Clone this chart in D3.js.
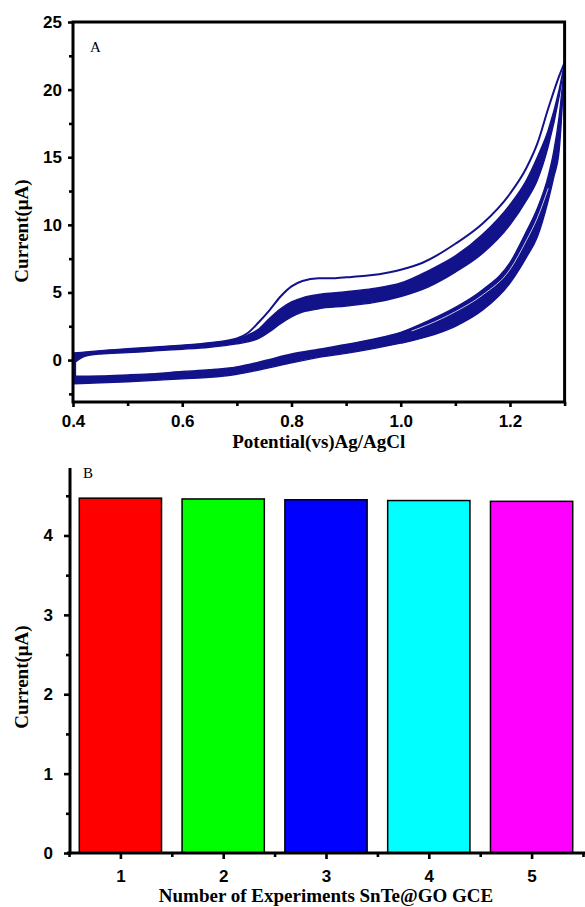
<!DOCTYPE html>
<html>
<head>
<meta charset="utf-8">
<script src="https://cdn.jsdelivr.net/npm/d3@7/dist/d3.min.js"></script>
<style>
  html, body { margin: 0; padding: 0; background: #ffffff; }
  svg { display: block; }
</style>
</head>
<body>
<svg id="chart" width="585" height="907"></svg>
<script>
// ---------- Panel A data: cyclic voltammograms (potential V, current µA) ----------
// First cycle, forward (anodic) sweep – the separate outer line
const firstFwdV = [0.40, 0.45, 0.50, 0.55, 0.60, 0.65, 0.70, 0.72, 0.74, 0.76, 0.78, 0.80, 0.82, 0.85, 0.88, 0.91, 0.94, 0.98, 1.00, 1.04, 1.10, 1.15, 1.20, 1.23, 1.25, 1.27, 1.29, 1.30];
const firstFwdI = [0.50, 0.68, 0.82, 0.95, 1.08, 1.27, 1.60, 2.00, 2.80, 3.70, 4.70, 5.45, 5.85, 6.05, 6.06, 6.15, 6.25, 6.50, 6.68, 7.20, 8.60, 10.1, 12.3, 14.2, 16.0, 18.6, 21.0, 22.0];

// Later cycles, forward sweep – band of overlapping curves (upper / lower edge)
const fwdBandV     = [0.40, 0.42, 0.45, 0.50, 0.55, 0.60, 0.65, 0.70, 0.72, 0.74, 0.76, 0.78, 0.80, 0.82, 0.85, 0.90, 0.95, 1.00, 1.05, 1.10, 1.15, 1.20, 1.23, 1.25, 1.27, 1.29, 1.30];
const fwdBandUpper = [0.45, 0.55, 0.65, 0.80, 0.92, 1.05, 1.25, 1.55, 1.85, 2.30, 3.10, 3.80, 4.30, 4.60, 4.85, 5.05, 5.30, 5.70, 6.60, 7.70, 9.30, 11.5, 13.3, 15.0, 17.0, 20.0, 22.0];
const fwdBandLower = [-0.30, 0.25, 0.45, 0.55, 0.68, 0.80, 0.95, 1.20, 1.35, 1.60, 2.10, 2.70, 3.20, 3.55, 3.80, 4.00, 4.25, 4.70, 5.40, 6.50, 7.90, 10.0, 11.8, 13.3, 15.8, 19.5, 22.0];

// Reverse (cathodic) sweep – band of overlapping curves
const revBandV     = [0.40, 0.45, 0.50, 0.55, 0.60, 0.65, 0.70, 0.75, 0.80, 0.85, 0.90, 0.95, 1.00, 1.05, 1.10, 1.15, 1.20, 1.23, 1.25, 1.27, 1.28, 1.29, 1.30];
const revBandUpper = [-1.20, -1.18, -1.10, -1.00, -0.85, -0.72, -0.50, -0.05, 0.45, 0.80, 1.15, 1.55, 2.05, 2.90, 3.90, 5.20, 7.20, 9.50, 11.2, 13.6, 15.4, 18.0, 22.0];
const revBandLower = [-1.75, -1.68, -1.60, -1.50, -1.38, -1.28, -1.05, -0.65, -0.20, 0.20, 0.50, 0.85, 1.25, 1.75, 2.50, 3.70, 5.70, 7.60, 9.10, 11.8, 13.5, 15.5, 22.0];

// Thin gap separating the first reverse cycle from the later ones
const revGapV = [1.02, 1.05, 1.10, 1.15, 1.20, 1.23, 1.25, 1.27];
const revGapI = [2.15, 2.62, 3.58, 4.82, 6.70, 8.85, 10.5, 12.7];

// Switching point at the low-potential end (reverse -> forward)
const turnV = [0.403, 0.403];
const turnI = [-1.75, 0.50];

const xTicksA = [0.4, 0.6, 0.8, 1.0, 1.2];
const xMinorA = [0.5, 0.7, 0.9, 1.1, 1.3];
const yTicksA = [0, 5, 10, 15, 20, 25];
const yMinorA = [-2.5, 2.5, 7.5, 12.5, 17.5, 22.5];

// ---------- Panel B data: repeatability bars ----------
const experiments = [1, 2, 3, 4, 5];
const currents    = [4.47, 4.46, 4.45, 4.44, 4.43];
const barColors   = ["#ff0000", "#00ff00", "#0000ff", "#00ffff", "#ff00ff"];
const yTicksB = [0, 1, 2, 3, 4];
const yMinorB = [0.5, 1.5, 2.5, 3.5, 4.5];
const xMinorB = [0.5, 1.5, 2.5, 3.5, 4.5, 5.5];

// ---------- Drawing ----------
const svg = d3.select("#chart");
const tickFont = "'Liberation Sans', Arial, Helvetica, sans-serif";
const titleFont = "'Liberation Serif', 'Times New Roman', Times, serif";
const navy = "#12128a";

function styleAxis(g, fs) {
  g.select(".domain").remove();
  g.selectAll(".tick line").attr("stroke", "#000").attr("stroke-width", 2.6);
  g.selectAll(".tick text")
    .attr("fill", "#000")
    .style("font-family", tickFont)
    .style("font-weight", "bold")
    .style("font-size", fs + "px");
}

// ===== Panel A =====
const xA = d3.scaleLinear().domain([0.4, 1.3]).range([73, 564.6]);
const yA = d3.scaleLinear().domain([-3.1, 25]).range([402, 22]);

svg.append("defs").append("clipPath").attr("id", "clipA")
  .append("rect")
  .attr("x", xA(0.4)).attr("y", yA(25))
  .attr("width", xA(1.3) - xA(0.4)).attr("height", yA(-3.1) - yA(25));

const plotA = svg.append("g").attr("clip-path", "url(#clipA)");

const bandArea = d3.area().curve(d3.curveMonotoneX);

function drawBand(V, up, lo) {
  const pts = V.map((v, i) => [xA(v), yA(up[i]), yA(lo[i])]);
  plotA.append("path")
    .attr("d", bandArea.x(d => d[0]).y0(d => d[2]).y1(d => d[1])(pts))
    .attr("fill", navy)
    .attr("stroke", navy)
    .attr("stroke-width", 1.4)
    .attr("stroke-linejoin", "round");
}
drawBand(revBandV, revBandUpper, revBandLower);
drawBand(fwdBandV, fwdBandUpper, fwdBandLower);

const lineGen = d3.line().curve(d3.curveMonotoneX);
plotA.append("path")
  .attr("d", lineGen(revGapV.map((v, i) => [xA(v), yA(revGapI[i])])))
  .attr("fill", "none")
  .attr("stroke", "#ffffff")
  .attr("stroke-opacity", 0.85)
  .attr("stroke-width", 0.9);

plotA.append("path")
  .attr("d", lineGen(firstFwdV.map((v, i) => [xA(v), yA(firstFwdI[i])])))
  .attr("fill", "none")
  .attr("stroke", navy)
  .attr("stroke-width", 2);

plotA.append("path")
  .attr("d", d3.line()(turnV.map((v, i) => [xA(v), yA(turnI[i])])))
  .attr("fill", "none")
  .attr("stroke", navy)
  .attr("stroke-width", 3);

// axes A
const gxA = svg.append("g").attr("transform", `translate(0,${yA(-3.1)})`)
  .call(d3.axisBottom(xA).tickValues(xTicksA).tickFormat(d3.format(".1f")).tickSize(5).tickPadding(8));
styleAxis(gxA, 17);
const gxAm = svg.append("g").attr("transform", `translate(0,${yA(-3.1)})`)
  .call(d3.axisBottom(xA).tickValues(xMinorA).tickFormat("").tickSize(4));
styleAxis(gxAm, 17);

const gyA = svg.append("g").attr("transform", `translate(${xA(0.4)},0)`)
  .call(d3.axisLeft(yA).tickValues(yTicksA).tickSize(5).tickPadding(6));
styleAxis(gyA, 17);
const gyAm = svg.append("g").attr("transform", `translate(${xA(0.4)},0)`)
  .call(d3.axisLeft(yA).tickValues(yMinorA).tickFormat("").tickSize(4));
styleAxis(gyAm, 17);

// frame A
svg.append("rect")
  .attr("x", xA(0.4)).attr("y", yA(25))
  .attr("width", xA(1.3) - xA(0.4)).attr("height", yA(-3.1) - yA(25))
  .attr("fill", "none").attr("stroke", "#000").attr("stroke-width", 3);

svg.append("text").attr("x", 90).attr("y", 52)
  .style("font-family", titleFont).style("font-size", "15px").text("A");

svg.append("text")
  .attr("x", (xA(0.4) + xA(1.3)) / 2).attr("y", 448)
  .attr("text-anchor", "middle")
  .style("font-family", titleFont).style("font-weight", "bold").style("font-size", "19px")
  .text("Potential(vs)Ag/AgCl");

svg.append("text")
  .attr("transform", "translate(28,231) rotate(-90)")
  .attr("text-anchor", "middle")
  .style("font-family", titleFont).style("font-weight", "bold").style("font-size", "19px")
  .text("Current(μA)");

// ===== Panel B =====
const xB = d3.scaleLinear().domain([0.5, 5.5]).range([69, 583]);
const yB = d3.scaleLinear().domain([0, 4.85]).range([853, 468]);
const barW = 0.8;

svg.append("g").selectAll("rect")
  .data(experiments)
  .join("rect")
  .attr("x", (d) => xB(d - barW / 2))
  .attr("width", xB(barW) - xB(0))
  .attr("y", (d, i) => yB(currents[i]))
  .attr("height", (d, i) => yB(0) - yB(currents[i]))
  .attr("fill", (d, i) => barColors[i])
  .attr("stroke", "#000")
  .attr("stroke-width", 1.5);

const gxB = svg.append("g").attr("transform", `translate(0,${yB(0)})`)
  .call(d3.axisBottom(xB).tickValues(experiments).tickFormat(d3.format("d")).tickSize(6).tickPadding(11));
styleAxis(gxB, 17);
const gxBm = svg.append("g").attr("transform", `translate(0,${yB(0)})`)
  .call(d3.axisBottom(xB).tickValues(xMinorB).tickFormat("").tickSize(4));
styleAxis(gxBm, 17);

const gyB = svg.append("g").attr("transform", `translate(70,0)`)
  .call(d3.axisLeft(yB).tickValues(yTicksB).tickFormat(d3.format("d")).tickSize(6).tickPadding(11));
styleAxis(gyB, 17);
const gyBm = svg.append("g").attr("transform", `translate(70,0)`)
  .call(d3.axisLeft(yB).tickValues(yMinorB).tickFormat("").tickSize(4));
styleAxis(gyBm, 17);

// axis lines B
svg.append("line").attr("x1", 70).attr("x2", 70).attr("y1", yB(4.85)).attr("y2", yB(0) + 1.5)
  .attr("stroke", "#000").attr("stroke-width", 3);
svg.append("line").attr("x1", 67).attr("x2", 585).attr("y1", yB(0)).attr("y2", yB(0))
  .attr("stroke", "#000").attr("stroke-width", 3);

svg.append("text").attr("x", 83).attr("y", 478)
  .style("font-family", titleFont).style("font-size", "15px").text("B");

svg.append("text")
  .attr("x", 326).attr("y", 902)
  .attr("text-anchor", "middle")
  .style("font-family", titleFont).style("font-weight", "bold").style("font-size", "19px")
  .text("Number of Experiments SnTe@GO GCE");

svg.append("text")
  .attr("transform", "translate(28,677) rotate(-90)")
  .attr("text-anchor", "middle")
  .style("font-family", titleFont).style("font-weight", "bold").style("font-size", "19px")
  .text("Current(μA)");
</script>
</body>
</html>
